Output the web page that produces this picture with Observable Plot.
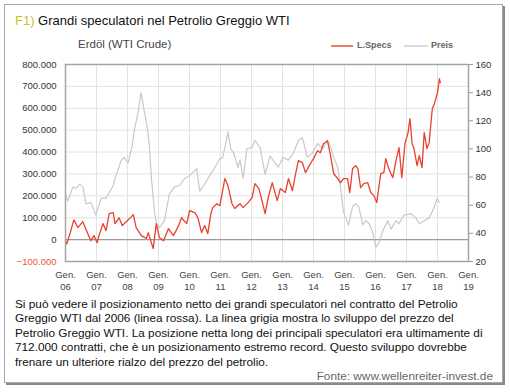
<!DOCTYPE html>
<html><head><meta charset="utf-8">
<script src="https://cdn.jsdelivr.net/npm/d3@7"></script>
<script src="https://cdn.jsdelivr.net/npm/@observablehq/plot@0.6"></script>
<style>
body{margin:0;background:#fff;font-family:"Liberation Sans",Arial,sans-serif;width:510px;height:392px;overflow:hidden;position:relative;}
#box{position:absolute;left:4px;top:4px;width:497px;height:377px;border:1px solid #a8a8a8;box-shadow:2px 2px 0 #8a8a8a;}
#title{position:absolute;left:15px;top:13px;font-size:13px;color:#111;white-space:nowrap;}
#sub{position:absolute;left:78px;top:38px;font-size:11.5px;color:#444;white-space:nowrap;}
.leg{position:absolute;top:40px;font-size:9px;font-weight:bold;color:#666;white-space:nowrap;}
.legline{position:absolute;top:45px;height:2px;}
#chart{position:absolute;left:0;top:50px;}
#caption{position:absolute;left:15px;top:297px;font-size:11.8px;line-height:14.4px;color:#111;}
#caption div{white-space:nowrap;}
#source{position:absolute;right:17px;top:369px;font-size:11.8px;color:#666;white-space:nowrap;}
</style></head><body>
<div id="box"></div>
<div id="title"><span style="color:#c9c21a">F1)</span> Grandi speculatori nel Petrolio Greggio WTI</div>
<div id="sub">Erdöl (WTI Crude)</div>
<div class="legline" style="left:331px;width:22px;background:#ee7a6a"></div>
<div class="leg" style="left:357px">L.Specs</div>
<div class="legline" style="left:404px;width:24px;background:#dcdcdc"></div>
<div class="leg" style="left:431px">Preis</div>
<div id="chart"></div>
<div id="caption">
<div>Si può vedere il posizionamento netto dei grandi speculatori nel contratto del Petrolio</div>
<div>Greggio WTI dal 2006 (linea rossa). La linea grigia mostra lo sviluppo del prezzo del</div>
<div>Petrolio Greggio WTI. La posizione netta long dei principali speculatori era ultimamente di</div>
<div>712.000 contratti, che è un posizionamento estremo record. Questo sviluppo dovrebbe</div>
<div>frenare un ulteriore rialzo del prezzo del petrolio.</div>
</div>
<div id="source">Fonte: www.wellenreiter-invest.de</div>
<script>
// L.Specs (net position of large speculators), decimal year -> contracts
const specsYear = [2006.0,2006.04,2006.15,2006.27,2006.40,2006.56,2006.72,2006.82,2006.92,2007.02,2007.08,2007.21,2007.31,2007.41,2007.54,2007.60,2007.73,2007.83,2007.96,2008.19,2008.28,2008.45,2008.61,2008.67,2008.83,2008.93,2009.03,2009.16,2009.32,2009.48,2009.65,2009.74,2009.91,2010.00,2010.17,2010.27,2010.39,2010.49,2010.59,2010.69,2010.75,2010.88,2010.98,2011.14,2011.24,2011.37,2011.46,2011.63,2011.73,2011.89,2012.02,2012.11,2012.24,2012.34,2012.44,2012.54,2012.67,2012.83,2012.93,2013.09,2013.19,2013.32,2013.41,2013.51,2013.64,2013.74,2013.90,2014.00,2014.13,2014.22,2014.32,2014.45,2014.55,2014.65,2014.78,2014.87,2014.97,2015.10,2015.17,2015.26,2015.36,2015.43,2015.52,2015.62,2015.75,2015.85,2015.95,2016.04,2016.17,2016.27,2016.33,2016.43,2016.56,2016.66,2016.76,2016.85,2016.95,2017.05,2017.11,2017.18,2017.24,2017.34,2017.41,2017.50,2017.57,2017.66,2017.73,2017.83,2017.90,2018.00,2018.06,2018.09];
const specsValue = [-5000,-20000,30000,90000,55000,82000,27000,-5000,18000,-14000,18000,73000,41000,119000,123000,73000,100000,64000,82000,114000,55000,18000,5000,32000,-41000,73000,9000,-5000,50000,18000,64000,100000,73000,132000,123000,100000,32000,64000,27000,119000,146000,164000,155000,279000,247000,164000,142000,164000,146000,169000,192000,256000,233000,178000,119000,192000,260000,178000,233000,215000,279000,224000,292000,361000,352000,306000,347000,370000,406000,397000,438000,452000,384000,301000,279000,260000,279000,279000,215000,324000,338000,324000,237000,256000,260000,215000,201000,169000,301000,306000,370000,324000,283000,361000,420000,283000,438000,489000,553000,438000,416000,338000,384000,329000,489000,416000,443000,598000,621000,671000,735000,717000];
// Preis (WTI price, USD), decimal year -> price
const priceYear = [2006.0,2006.07,2006.24,2006.33,2006.46,2006.56,2006.66,2006.82,2006.98,2007.15,2007.31,2007.54,2007.63,2007.80,2007.89,2008.02,2008.15,2008.22,2008.35,2008.44,2008.54,2008.64,2008.70,2008.77,2008.87,2008.93,2009.03,2009.19,2009.35,2009.52,2009.68,2009.84,2010.00,2010.23,2010.33,2010.49,2010.65,2010.82,2010.98,2011.07,2011.20,2011.24,2011.33,2011.43,2011.56,2011.63,2011.73,2011.85,2012.02,2012.11,2012.28,2012.44,2012.60,2012.76,2012.86,2013.02,2013.19,2013.35,2013.51,2013.64,2013.80,2013.96,2014.13,2014.29,2014.45,2014.55,2014.65,2014.78,2014.87,2014.97,2015.04,2015.13,2015.26,2015.36,2015.46,2015.59,2015.69,2015.79,2015.92,2016.01,2016.11,2016.24,2016.40,2016.50,2016.66,2016.76,2016.92,2017.14,2017.30,2017.41,2017.57,2017.73,2017.86,2017.99,2018.06];
const priceValue = [67,63,73,72,75,73,61,62,53,65,65,74,81,92,94,90,102,113,127,140,127,115,104,80,56,47,44,49,68,73,74,79,81,86,70,75,81,87,93,94,107,112,100,97,87,92,79,100,101,106,101,82,95,90,87,94,92,97,106,108,94,97,104,100,106,102,94,87,73,55,51,46,59,61,59,46,49,47,40,30,33,42,49,43,49,47,53,54,51,47,49,51,57,65,62];
// axis ticks
const leftTicks = [-100000,0,100000,200000,300000,400000,500000,600000,700000,800000];
const priceTicks = [20,40,60,80,100,120,140,160];
const yearTicks = [2006,2007,2008,2009,2010,2011,2012,2013,2014,2015,2016,2017,2018,2019];
const yearLabels = ["06","07","08","09","10","11","12","13","14","15","16","17","18","19"];

const toDate = t => { const y = Math.floor(t); return new Date(Date.UTC(y,0,1) + (t - y) * 365.25 * 864e5); };
const toLeft = p => -100000 + (p - 20) / 140 * 900000;
const fromLeft = v => 20 + (v + 100000) / 900000 * 140;
const fmt = v => v === 0 ? "0" : d3.format(",")(v).replace(/,/g, ".");

const specs = specsYear.map((t, i) => ({date: toDate(t), value: specsValue[i]}));
const price = priceYear.map((t, i) => ({date: toDate(t), value: toLeft(priceValue[i])}));
const yearDates = yearTicks.map(y => new Date(Date.UTC(y,0,1)));

const chart = Plot.plot({
  width: 510,
  height: 246,
  marginLeft: 65,
  marginRight: 42,
  marginTop: 14,
  marginBottom: 35,
  style: {fontFamily: "Liberation Sans, Arial, sans-serif", fontSize: "9.5px", color: "#333", background: "transparent"},
  x: {type: "utc", domain: [yearDates[0], yearDates[yearDates.length - 1]]},
  y: {domain: [-100000, 800000]},
  marks: [
    Plot.gridX(yearDates, {stroke: "#e2e2e2", strokeOpacity: 1}),
    Plot.gridY(leftTicks, {stroke: "#e2e2e2", strokeOpacity: 1}),
    Plot.ruleY([0], {stroke: "#9a9a9a", strokeWidth: 1.2}),
    Plot.line(price, {x: "date", y: "value", stroke: "#c9c9c9", strokeWidth: 1.2}),
    Plot.line(specs, {x: "date", y: "value", stroke: "#e8412e", strokeWidth: 1.3}),
    Plot.frame({stroke: "#a5a5a5", strokeWidth: 1.5}),
    Plot.axisY(leftTicks.filter(v => v >= 0), {anchor: "left", label: null, tickSize: 0, tickPadding: 9, tickFormat: fmt, color: "#333"}),
    Plot.axisY([-100000], {anchor: "left", label: null, tickSize: 0, tickPadding: 9, tickFormat: fmt, color: "#ee5535"}),
    Plot.axisY(priceTicks.map(toLeft), {anchor: "right", label: null, tickSize: 4, tickPadding: 3, tickFormat: v => String(Math.round(fromLeft(v))), color: "#333", stroke: "#999"}),
    Plot.axisX(yearDates, {anchor: "bottom", label: null, tickSize: 0, tickPadding: 8, tickFormat: d => "Gen.\n" + yearLabels[yearDates.findIndex(e => +e === +d)], color: "#444", lineHeight: 1.25}),
  ]
});
document.getElementById("chart").appendChild(chart);
</script>
</body></html>
